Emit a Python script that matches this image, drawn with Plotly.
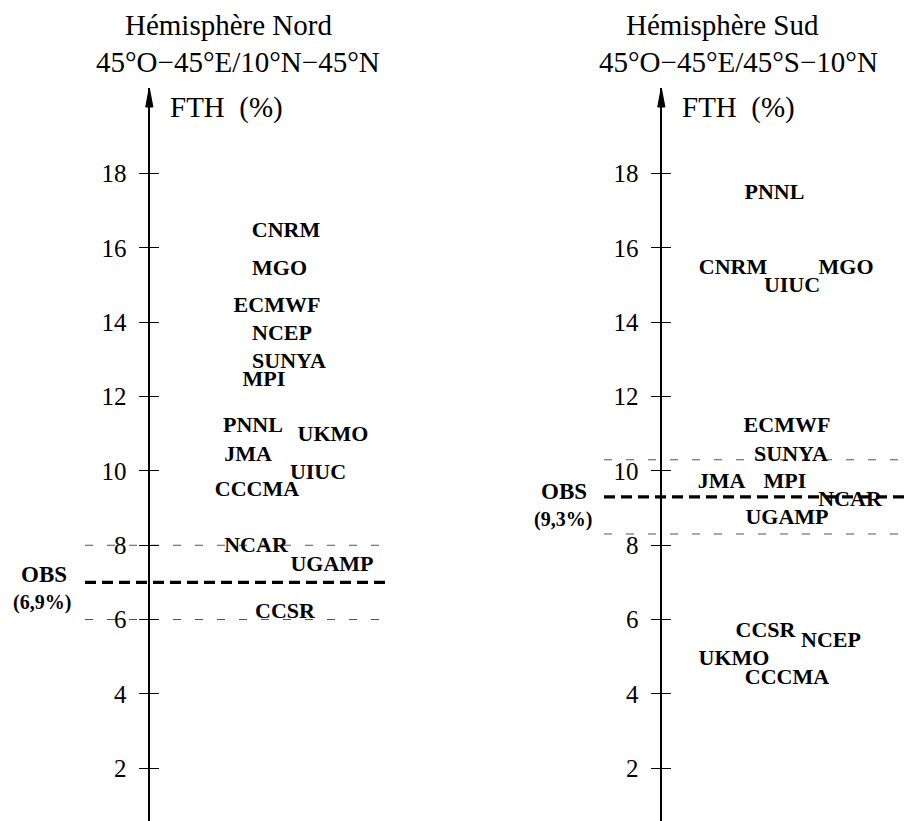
import plotly.graph_objects as go

# ---------------- data ----------------
models_nord = ["CNRM", "MGO", "ECMWF", "NCEP", "SUNYA", "MPI", "PNNL", "UKMO",
               "JMA", "UIUC", "CCCMA", "NCAR", "UGAMP", "CCSR"]
fth_nord = [16.45, 15.42, 14.43, 13.68, 12.92, 12.44, 11.18, 10.96,
            10.40, 9.94, 9.48, 7.97, 7.46, 6.20]

models_sud = ["PNNL", "CNRM", "MGO", "UIUC", "ECMWF", "SUNYA", "JMA", "MPI",
              "NCAR", "UGAMP", "CCSR", "NCEP", "UKMO", "CCCMA"]
fth_sud = [17.47, 15.45, 15.45, 14.97, 11.18, 10.42, 9.70, 9.70,
           9.21, 8.73, 5.69, 5.42, 4.93, 4.42]

obs_nord = 7.0
obs_nord_label = "(6,9%)"
obs_sud = 9.3
obs_sud_label = "(9,3%)"
obs_spread = 1.0

tick_values = [2, 4, 6, 8, 10, 12, 14, 16, 18]
tick_labels = ["2", "4", "6", "8", "10", "12", "14", "16", "18"]

# ---------------- layout helpers (pixel x placement of labels) ----------------
W, H = 906, 821
AX_N, AX_S = 149.3, 661.3           # x of the two vertical axes (px)
xpos_nord = [286, 279.5, 277, 282, 289, 264, 253, 333, 248, 318, 257, 256, 332, 285]
xpos_sud = [774.5, 733, 846, 792, 787, 791, 721.5, 785, 850, 787, 765.5, 831, 734, 787]
YMIN, YMAX = 0.58, 20.30
TOP = 88

SERIF = "Liberation Serif, Times New Roman, serif"


def v_of_px(py):
    # convert a pixel row (from top) to data value on the shared y scale
    return YMIN + (H - py) * (YMAX - YMIN) / (H - TOP)


def paper_of_px(py):
    return (H - py) / (H - TOP)


fig = go.Figure()

# dashed OBS lines
for obs, x0, x1 in [(obs_nord, 85, 390), (obs_sud, 604, 906)]:
    for val, w, dash, col in [(obs - obs_spread, 1.1, "8px,14px", "#555"),
                              (obs + obs_spread, 1.1, "8px,14px", "#555"),
                              (obs, 3.2, "11px,6px", "black")]:
        fig.add_trace(go.Scatter(x=[x0, x1], y=[val, val], mode="lines",
                                 line=dict(color=col, width=w, dash=dash),
                                 hoverinfo="skip", showlegend=False))

# model labels
fig.add_trace(go.Scatter(x=xpos_nord, y=fth_nord, mode="text", text=models_nord,
                         textposition="middle center",
                         textfont=dict(family=SERIF, size=22, color="black", weight="bold"),
                         hoverinfo="skip", showlegend=False))
fig.add_trace(go.Scatter(x=xpos_sud, y=fth_sud, mode="text", text=models_sud,
                         textposition="middle center",
                         textfont=dict(family=SERIF, size=22, color="black", weight="bold"),
                         hoverinfo="skip", showlegend=False))

# dummy traces so the overlay axes are drawn
for ax in ["y2", "y3", "y4"]:
    fig.add_trace(go.Scatter(x=[None], y=[None], yaxis=ax, mode="markers",
                             hoverinfo="skip", showlegend=False))

common_y = dict(range=[YMIN, YMAX], tickvals=tick_values, ticktext=tick_labels,
                ticks="outside", ticklen=9, tickwidth=1.2, tickcolor="black",
                showgrid=False, zeroline=False, fixedrange=True,
                tickfont=dict(family=SERIF, size=25, color="black"))

fig.update_layout(
    width=W, height=H,
    margin=dict(l=0, r=0, t=TOP, b=0),
    paper_bgcolor="white", plot_bgcolor="white",
    showlegend=False,
    xaxis=dict(range=[0, W], visible=False, fixedrange=True),
    yaxis=dict(**common_y, anchor="free", position=AX_N / W, side="left",
               showline=True, linewidth=1.7, linecolor="black", ticklabelstandoff=8),
    yaxis2=dict(**common_y, overlaying="y", anchor="free", position=AX_N / W, side="right",
                showline=False, showticklabels=False),
    yaxis3=dict(**common_y, overlaying="y", anchor="free", position=AX_S / W, side="left",
                showline=True, linewidth=1.7, linecolor="black", ticklabelstandoff=8),
    yaxis4=dict(**common_y, overlaying="y", anchor="free", position=AX_S / W, side="right",
                showline=False, showticklabels=False),
)

# arrow heads at the top of the axes
for ax in [AX_N, AX_S]:
    fig.add_shape(type="path", xref="x", yref="y",
                  path=f"M {ax-3.6},{v_of_px(107)} L {ax},{v_of_px(88)} L {ax+3.6},{v_of_px(107)} Z",
                  fillcolor="black", line=dict(color="black", width=1))

# texts
ann = []
ann += [dict(x=228, y=paper_of_px(25), text="Hémisphère Nord", font=dict(size=29)),
        dict(x=237.5, y=paper_of_px(62), text="45°O−45°E/10°N−45°N", font=dict(size=29)),
        dict(x=722.5, y=paper_of_px(25), text="Hémisphère Sud", font=dict(size=29)),
        dict(x=738, y=paper_of_px(62), text="45°O−45°E/45°S−10°N", font=dict(size=29)),
        dict(x=168, y=paper_of_px(108), text="FTH  (%)", font=dict(size=29), xanchor="left"),
        dict(x=680, y=paper_of_px(108), text="FTH  (%)", font=dict(size=29), xanchor="left"),
        dict(x=43.5, y=paper_of_px(574), text="<b>OBS</b>", font=dict(size=23)),
        dict(x=42, y=paper_of_px(602), text=f"<b>{obs_nord_label}</b>", font=dict(size=20)),
        dict(x=564, y=paper_of_px(492), text="<b>OBS</b>", font=dict(size=23)),
        dict(x=563, y=paper_of_px(519), text=f"<b>{obs_sud_label}</b>", font=dict(size=20))]
for a in ann:
    a.setdefault("xanchor", "center")
    a["yanchor"] = "middle"
    a["xref"] = "x"
    a["yref"] = "paper"
    a["showarrow"] = False
    a["font"] = dict(family=SERIF, color="black", **a["font"])
    fig.add_annotation(**a)

fig.write_html("out.html", config={"displayModeBar": False},
               post_script="document.body.style.margin='0';")
